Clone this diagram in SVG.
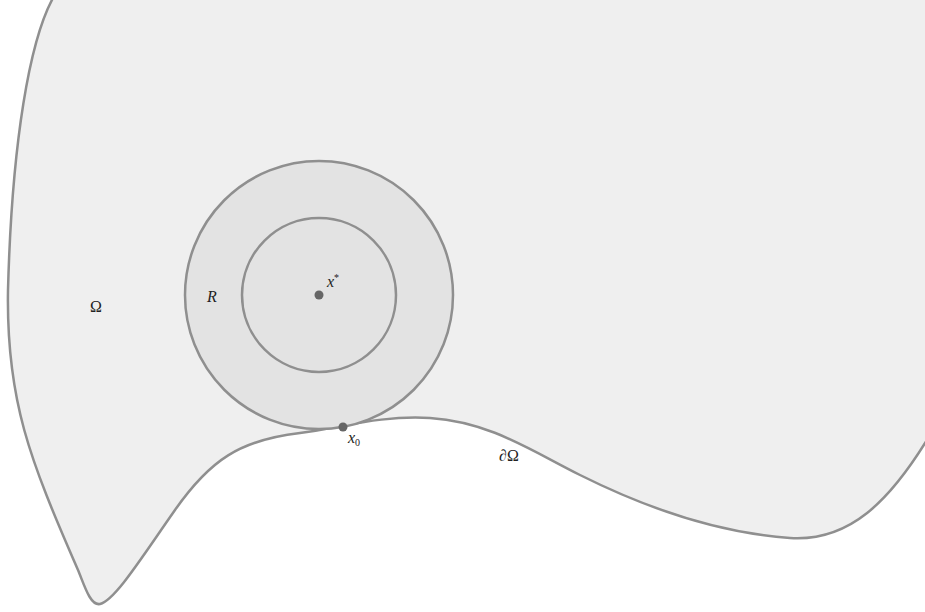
<svg xmlns="http://www.w3.org/2000/svg" width="925" height="612" viewBox="0 0 925 612">
<style>
.ln{stroke:#8f8f8f;stroke-width:2.5;}
.t{font-family:"Liberation Serif","DejaVu Serif",serif;font-size:16px;fill:#222;}
.i{font-style:italic;}
</style>
<rect width="925" height="612" fill="#ffffff"/>
<g id="domain">
<path class="ln" fill="#efefef" d="M 53,-2 C 30,40 12,140 8,290 C 6,400 30,460 78,570 C 84,584 90,606 100,604 C 115,600 140,560 175,510 C 210,460 240,440 300,433 C 340,428 380,415 430,418 C 490,422 530,450 580,475 C 650,510 720,533 790,538 C 850,542 890,500 927,440 L 927,-2 Z"/>
</g>
<g id="outer-ball">
<circle class="ln" cx="319" cy="295" r="134" fill="#e3e3e3"/>
</g>
<g id="inner-ball">
<circle class="ln" cx="319" cy="295" r="77" fill="#e3e3e3"/>
</g>
<g id="center">
<circle cx="319" cy="295" r="4.5" fill="#666"/>
</g>
<g id="x0">
<circle cx="343" cy="427" r="4.5" fill="#666"/>
</g>
<g id="labels">
<text class="t i" x="327" y="287">x<tspan font-size="10" dy="-6" font-style="normal">*</tspan></text>
<text class="t" x="90" y="312">Ω</text>
<text class="t i" x="207" y="302">R</text>
<text class="t i" x="348" y="443">x<tspan font-size="10" dy="3" font-style="normal">0</tspan></text>
<text class="t" x="499" y="461"><tspan class="i">∂</tspan>Ω</text>
</g>
</svg>
